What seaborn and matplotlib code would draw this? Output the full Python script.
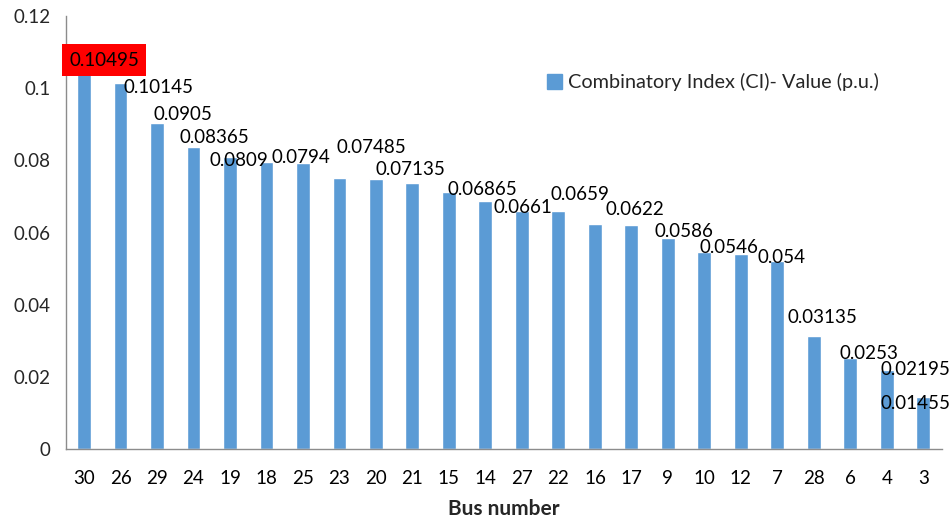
import numpy as np
import matplotlib
matplotlib.use("Agg")
import matplotlib.pyplot as plt
import matplotlib.patches as mpatches
from matplotlib.ticker import FixedLocator, FuncFormatter
import seaborn as sns
import pandas as pd

# Bus order as shown on the x axis
buses = ["30", "26", "29", "24", "19", "18", "25", "23", "20", "21", "15", "14",
         "27", "22", "16", "17", "9", "10", "12", "7", "28", "6", "4", "3"]

# Bar heights (p.u.)
ci_values = [0.10495, 0.10145, 0.0905, 0.08365, 0.0809, 0.0797, 0.0794, 0.0750,
             0.07485, 0.0738, 0.07135, 0.06865, 0.0661, 0.0659, 0.0623, 0.0622,
             0.0586, 0.0546, 0.054, 0.0522, 0.03135, 0.0253, 0.02195, 0.01455]

# Data labels as printed (None = no label shown on that bar)
label_text = ["0.10495", "0.10145", "0.0905", "0.08365", "0.0809", None, "0.0794", None,
              "0.07485", None, "0.07135", "0.06865", "0.0661", "0.0659", None, "0.0622",
              "0.0586", "0.0546", "0.054", None, "0.03135", "0.0253", "0.02195", "0.01455"]

# label nudges in pixels (dx right, dy down) relative to bar top centre
label_nudge = [(20, -10), (38, 4), (26, -8), (21, -10), (9, 3), None, (-2, -5), None,
               (-5, -31), None, (-38, -22), (-3, -12), (1, -3), (22, -17), None, (3, -15),
               (16, -6), (25, -5), (41, 3), None, (9, -18), (19, -4), (29, 0), (-8, 7)]

y_ticks = [0, 0.02, 0.04, 0.06, 0.08, 0.1, 0.12]

BAR_COLOR = "#5B9BD5"
AXIS_COLOR = "#8C8C8C"

sns.set_style("white")
plt.rcParams["font.family"] = ["Lato", "DejaVu Sans"]

df = pd.DataFrame({"bus": buses, "ci": ci_values})

fig = plt.figure(figsize=(9.53, 5.2), dpi=100)
ax = fig.add_axes([0.069, 0.1365, 0.919, 0.8325])

sns.barplot(data=df, x="bus", y="ci", order=buses, color=BAR_COLOR,
            width=0.38, saturation=1, ax=ax)

ax.set_xlim(-0.5, len(buses) - 0.5)
ax.set_ylim(0, 0.12)
ax.yaxis.set_major_locator(FixedLocator(y_ticks))
ax.yaxis.set_major_formatter(FuncFormatter(lambda v, p: "0" if v == 0 else f"{v:g}"))

# tick marks between categories on x, labels centred under bars
ax.set_xticks(np.arange(-0.5, len(buses), 1), minor=True)
ax.tick_params(axis="x", which="major", length=0, pad=15, labelsize=13.5, colors="black")
ax.tick_params(axis="x", which="minor", length=6, width=1, color=AXIS_COLOR, direction="out")
ax.tick_params(axis="y", which="major", length=7, width=1, color=AXIS_COLOR,
               direction="out", labelsize=13.5, pad=4)

for side in ["top", "right"]:
    ax.spines[side].set_visible(False)
for side in ["left", "bottom"]:
    ax.spines[side].set_color(AXIS_COLOR)
    ax.spines[side].set_linewidth(1)

ax.set_ylabel("")
ax.set_xlabel("Bus number", fontsize=15, fontweight="bold", labelpad=9)

px = 72 / fig.dpi
for i, (txt, nudge) in enumerate(zip(label_text, label_nudge)):
    if txt is None:
        continue
    dx, dy = nudge
    kw = {}
    if i == 0:
        kw["bbox"] = dict(boxstyle="square,pad=0.4", fc="#FF0000", ec="none")
    ax.annotate(txt, xy=(i, ci_values[i]), xytext=(dx * px, -dy * px),
                textcoords="offset points", ha="center", va="center",
                fontsize=13.5, color="black", zorder=5, **kw)

handle = mpatches.Patch(color=BAR_COLOR, label="Combinatory Index (CI)- Value (p.u.)")
ax.legend(handles=[handle], loc="center left", bbox_to_anchor=(0.555, 0.842),
          bbox_transform=fig.transFigure, frameon=False, fontsize=14.3,
          handlelength=0.75, handleheight=0.75, handletextpad=0.3)

fig.savefig("out.png", dpi=100)
